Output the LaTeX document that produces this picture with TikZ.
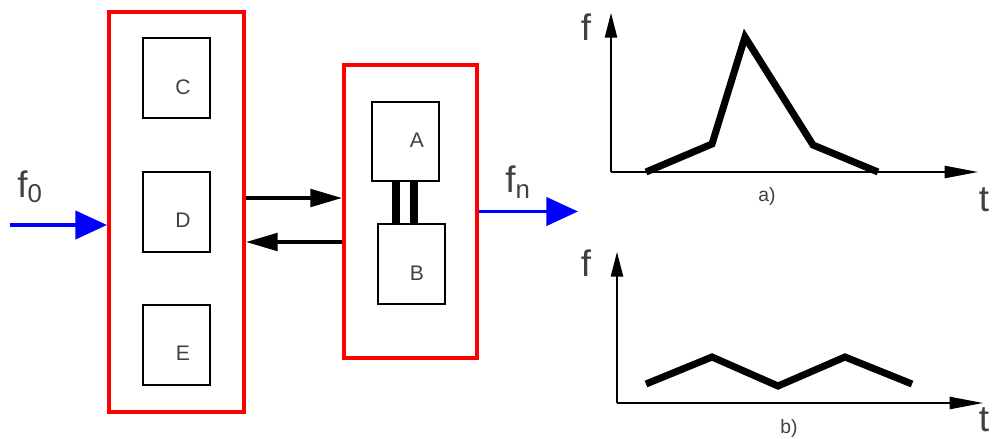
\documentclass[tikz,border=0pt]{standalone}
\usepackage{fontspec}
\setmainfont{Liberation Sans}
\usetikzlibrary{arrows.meta,calc}

\begin{document}
\begin{tikzpicture}[
    x=0.02cm, y=-0.02cm,
    frame/.style={draw=red, line width=2.3pt, minimum width=2.7cm, inner sep=0pt},
    unit/.style={draw, line width=1.1pt, minimum width=1.34cm, minimum height=1.6cm, inner sep=0pt},
    tag/.style={font=\fontsize{12}{12}\selectfont, text=black!75, inner sep=0pt},
    sig/.style={font=\fontsize{21}{21}\selectfont, text=black!75, inner sep=0pt},
    subcap/.style={font=\fontsize{11}{11}\selectfont, text=black!75, inner sep=0pt},
    flow/.style={draw=blue, line width=2.2pt, -{Triangle[length=18pt,width=16pt]}},
    link/.style={line width=2pt, -{Triangle[length=18pt,width=10pt]}},
    bar/.style={line width=4pt},
    axis/.style={line width=0.8pt},
    vtip/.style={-{Triangle[length=14pt,width=7pt]}},
    htip/.style={-{Triangle[length=19pt,width=7pt]}},
    curve/.style={line width=4pt}
]
\useasboundingbox (0,0) rectangle (997,439);

% left block
\node[frame, minimum height=8cm]    (lbox) at (176.5,212) {};
\node[unit] (c) at (176.5,78)  {};
\node[unit] (d) at (176.5,212) {};
\node[unit] (e) at (176.5,345) {};
\node[tag] (cl) at (183,87)  {C};
\node[tag] (dl) at (183,220) {D};
\node[tag] (el) at (183,353) {E};

% right block
\node[frame, minimum width=2.66cm, minimum height=5.86cm] (rbox) at (410.5,211.5) {};
\node[unit, minimum height=1.58cm] (a) at (405.5,141.5) {};
\node[unit] (b) at (411.5,264) {};
\node[tag] (al) at (417,140) {A};
\node[tag] (bl) at (417,273) {B};
\foreach \dx in {-9.5,8.5}
    \draw[bar] ($(a.south)+(\dx,0)$) -- ($(a.south |- b.north)+(\dx,0)$);

% links between blocks
\draw[link] ([yshift=0.28cm]lbox.east) -- ([yshift=0.28cm]lbox.east -| rbox.west);
\draw[link] ([yshift=-0.6cm]lbox.east -| rbox.west) -- ([yshift=-0.6cm]lbox.east);

% signal in / out
\coordinate (in)  at (10,225);
\coordinate (out) at (578,211.5);
\draw[flow] (in) -- (in -| lbox.west);
\draw[flow] (rbox.east) -- (out);
\node[sig] (f0) at (30,187) {f\textsubscript{0}};
\node[sig] (fn) at (518,182) {f\textsubscript{n}};

% graph a)
\coordinate (oa) at (611,172);
\draw[axis, vtip] (oa) -- (611,13);
\draw[axis, htip] (oa) -- (978,172);
\draw[curve] (646,172) -- (712,144) -- (745,37) -- (813,145) -- (878,172);
\node[sig] (fa) at (586,27)  {f};
\node[sig] (ta) at (984,200) {t};
\node[subcap] (ca) at (767,196) {a)};

% graph b)
\coordinate (ob) at (617,403);
\draw[axis, vtip] (ob) -- (617,252);
\draw[axis, htip] (ob) -- (983,403);
\draw[curve] (646,384) -- (712,357) -- (778,386) -- (845,357) -- (912,384);
\node[sig] (fb) at (586,263) {f};
\node[sig] (tb) at (984,420) {t};
\node[subcap] (cb) at (789,428) {b)};

\end{tikzpicture}
\end{document}
